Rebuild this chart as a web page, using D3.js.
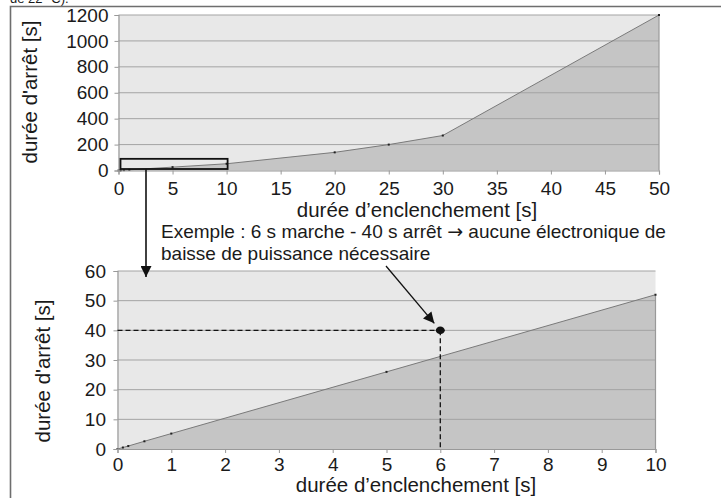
<!DOCTYPE html>
<html><head><meta charset="utf-8">
<script src="https://cdn.jsdelivr.net/npm/d3@7"></script>
<style>
body{margin:0;background:#fff;}
svg text{font-family:"Liberation Sans",Arial,Helvetica,sans-serif;fill:#1a1a1a;}
</style></head>
<body><svg id="c" width="721" height="498"></svg>
<script>
// Data
const onTimes  = [0, 0.1, 0.2, 0.5, 1, 5, 10, 20, 25, 30, 50];
const offTimes = [0, 0.5, 1, 2.6, 5.2, 26, 52, 140, 200, 270, 1200];
const topXTicks = [0,5,10,15,20,25,30,35,40,45,50];
const topYTicks = [0,200,400,600,800,1000,1200];
const botXTicks = [0,1,2,3,4,5,6,7,8,9,10];
const botYTicks = [0,10,20,30,40,50,60];
const xTitle = "durée d’enclenchement [s]";
const yTitle = "durée d'arrêt [s]";
const noteLine1 = ["Exemple : 6 s marche - 40 s arrêt ", "→", " aucune électronique de"];
const noteLine2 = "baisse de puissance nécessaire";
const example = {on: 6, off: 40};
const zoomBox = {x0: 0, x1: 10, y0: 0, y1: 90};
const headerText = "de 22 °C).";

const svg = d3.select("#c");
const FS_TICK = 19, FS_TITLE = 20.5, FS_NOTE = 19;

// frame and cut-off header
svg.append("text").attr("x", 10).attr("y", 3).attr("font-size", 13).text(headerText);
svg.append("path").attr("d", "M10.5,498 V6.5 H721").attr("fill","none").attr("stroke","#6e6e6e").attr("stroke-width",1.6);

const defs = svg.append("defs");
const ah2 = defs.append("marker").attr("id","ah2").attr("viewBox","0 0 10 10").attr("refX",10).attr("refY",5)
  .attr("markerWidth",18).attr("markerHeight",11).attr("markerUnits","userSpaceOnUse").attr("orient","auto");
ah2.append("path").attr("d","M0,0 L10,5 L0,10 z").attr("fill","#111");

function drawChart(cfg){
  const g = svg.append("g");
  const x = d3.scaleLinear().domain(cfg.xd).range([cfg.left, cfg.right]);
  const y = d3.scaleLinear().domain(cfg.yd).range([cfg.bottom, cfg.top]);
  g.append("rect").attr("x", x(cfg.xd[0])).attr("y", y(cfg.yd[1])).attr("width", x(cfg.xd[1])-x(cfg.xd[0]))
    .attr("height", y(cfg.yd[0])-y(cfg.yd[1])).attr("fill","#e8e8e8");
  const pts = onTimes.map((v,i)=>[v, offTimes[i]]).filter(p=>p[0] <= cfg.xd[1]);
  g.append("path").datum(pts).attr("d", d3.area().x(d=>x(d[0])).y0(y(0)).y1(d=>y(d[1])))
    .attr("fill","#c5c5c5");
  g.selectAll(".gl").data(cfg.yt.filter(v=>v>0)).join("line")
    .attr("x1", x(cfg.xd[0])).attr("x2", x(cfg.xd[1])).attr("y1", d=>y(d)).attr("y2", d=>y(d))
    .attr("stroke","#a3a3a3").attr("stroke-width",1);
  g.append("path").datum(pts).attr("d", d3.line().x(d=>x(d[0])).y(d=>y(d[1])))
    .attr("fill","none").attr("stroke","#7a7a7a").attr("stroke-width",1);
  const last = pts[pts.length-1];
  g.append("line").attr("x1", x(last[0])).attr("x2", x(last[0])).attr("y1", y(0)).attr("y2", y(last[1]))
    .attr("stroke","#999").attr("stroke-width",1.2);
  g.selectAll(".pt").data(pts).join("rect")
    .attr("x", d=>x(d[0])-1).attr("y", d=>y(d[1])-1).attr("width",2).attr("height",2).attr("fill","#222");
  const xa = g.append("g").attr("transform", `translate(0,${y(0)})`)
    .call(d3.axisBottom(x).tickValues(cfg.xt).tickSize(4).tickPadding(6).tickFormat(d3.format("d")));
  const ya = g.append("g").attr("transform", `translate(${x(0)},0)`)
    .call(d3.axisLeft(y).tickValues(cfg.yt).tickSize(4).tickPadding(cfg.yPad).tickFormat(d3.format("d")));
  [xa, ya].forEach(a=>{
    a.select(".domain").attr("stroke","#999").attr("stroke-width",1.2);
    a.selectAll(".tick line").attr("stroke","#999");
    a.selectAll(".tick text").attr("font-size", FS_TICK).attr("font-family","Liberation Sans, Arial, sans-serif").attr("fill","#1a1a1a");
  });
  xa.selectAll(".tick text").attr("dy", null).attr("y", cfg.xTickBase - y(0));
  g.append("text").attr("x", cfg.xTitleCX).attr("y", cfg.xTitleY).attr("text-anchor","middle")
    .attr("font-size", FS_TITLE).text(xTitle);
  g.append("text").attr("transform", `translate(${cfg.yTitleX},${cfg.yTitleCY}) rotate(-90)`)
    .attr("text-anchor","middle").attr("font-size", FS_TITLE).text(yTitle);
  return {x, y, g};
}

const topC = drawChart({xd:[0,50], yd:[0,1200], left:118.5, right:659, top:15, bottom:170.5,
  xt:topXTicks, yt:topYTicks, yPad:6, xTickBase:195, xTitleY:216.5, xTitleCX:417, yTitleX:37, yTitleCY:92});
const botC = drawChart({xd:[0,10], yd:[0,60], left:117.5, right:655.5, top:271, bottom:449,
  xt:botXTicks, yt:botYTicks, yPad:7.5, xTickBase:470.5, xTitleY:492, xTitleCX:416, yTitleX:50, yTitleCY:371});

// zoom box in top chart
topC.g.append("rect").attr("x", topC.x(zoomBox.x0)+2).attr("y", topC.y(zoomBox.y1))
  .attr("width", topC.x(zoomBox.x1)-topC.x(zoomBox.x0)-1).attr("height", topC.y(zoomBox.y0)-topC.y(zoomBox.y1)-1.5)
  .attr("fill","none").attr("stroke","#111").attr("stroke-width",1.8);

// arrow from box down to lower chart
svg.append("line").attr("x1", 146).attr("y1", topC.y(0)-1).attr("x2", 146).attr("y2", 277)
  .attr("stroke","#111").attr("stroke-width",1.6).attr("marker-end","url(#ah2)");

// note text
const t1 = svg.append("text").attr("x", 161).attr("y", 238).attr("font-size", FS_NOTE);
t1.append("tspan").text(noteLine1[0]);
t1.append("tspan").attr("font-family","DejaVu Sans").attr("font-size", 19).text(noteLine1[1]);
t1.append("tspan").text(noteLine1[2]);
svg.append("text").attr("x", 161).attr("y", 259.5).attr("font-size", FS_NOTE).text(noteLine2);

// example point, dashed guides, and pointer arrow
const ex = botC.x(example.on), ey = botC.y(example.off);
botC.g.append("line").attr("x1", botC.x(0)).attr("x2", ex).attr("y1", ey).attr("y2", ey)
  .attr("stroke","#111").attr("stroke-width",1.3).attr("stroke-dasharray","5,3");
botC.g.append("line").attr("x1", ex).attr("x2", ex).attr("y1", ey).attr("y2", botC.y(0))
  .attr("stroke","#111").attr("stroke-width",1.3).attr("stroke-dasharray","5,3");
botC.g.append("ellipse").attr("cx", ex).attr("cy", ey).attr("rx", 4.5).attr("ry", 3.8).attr("fill","#111");
svg.append("line").attr("x1", 386).attr("y1", 266).attr("x2", ex-6).attr("y2", ey-7)
  .attr("stroke","#111").attr("stroke-width",1.3).attr("marker-end","url(#ah2)");
</script></body></html>
